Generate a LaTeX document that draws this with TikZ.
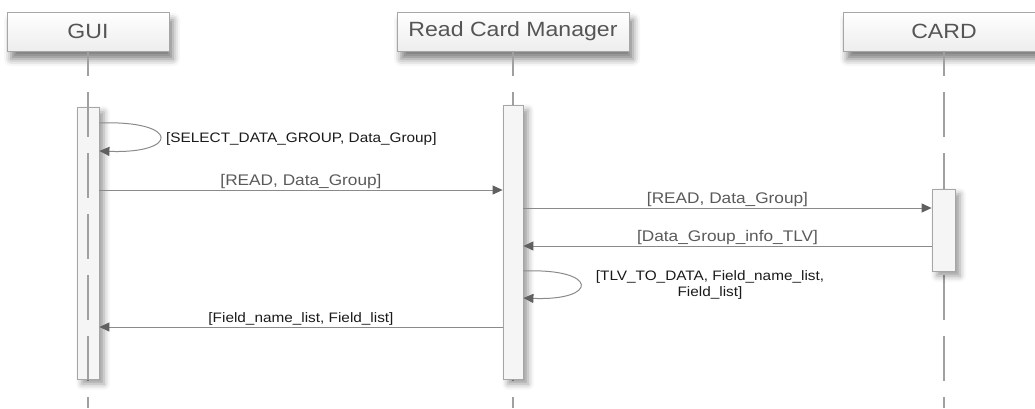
\documentclass[tikz,border=0pt]{standalone}
\usepackage{fontspec}
\setmainfont{Liberation Sans}[FakeStretch=1.12]
\usetikzlibrary{arrows.meta,shadows.blur}

\definecolor{boxline}{HTML}{A6A6A6}
\definecolor{lifeline}{HTML}{A0A0A0}
\definecolor{msgline}{HTML}{8A8A8A}
\definecolor{tipgray}{HTML}{606060}
\definecolor{headtext}{HTML}{555555}
\definecolor{msgtext}{HTML}{5A5A5A}
\definecolor{notetext}{HTML}{1A1A1A}

\tikzset{
  header/.style={draw=boxline, line width=0.8pt, top color=white, bottom color=black!7,
    minimum height=39pt, inner sep=0pt, text=headtext,
    font=\fontsize{20.6}{24}\selectfont,
    blur shadow={shadow xshift=4pt, shadow yshift=-8pt, shadow blur radius=7pt, shadow opacity=50}},
  activation/.style={draw=boxline, line width=0.8pt, fill=black!4, inner sep=0pt,
    blur shadow={shadow xshift=5pt, shadow yshift=-5pt, shadow blur radius=6pt, shadow opacity=40}},
  lifelinestyle/.style={draw=lifeline, line width=1.6pt, dash pattern=on 45pt off 16pt, dash phase=20pt},
  msg/.style={draw=msgline, line width=1pt, -{Triangle[length=10pt, width=9pt, fill=tipgray, color=tipgray]}},
  msglabel/.style={text=msgtext, font=\fontsize{15.4}{18}\selectfont, inner sep=1pt, anchor=south},
  notelabel/.style={text=notetext, font=\fontsize{13.7}{16}\selectfont, inner sep=0pt, align=center}
}

\begin{document}
\begin{tikzpicture}[x=1pt, y=-1pt]
\useasboundingbox (0,0) rectangle (1035,408);
\clip (0,0) rectangle (1035,408);

% participants
\node[header, minimum width=162pt] (gui) at (88,31.5) {GUI};
\node[header, minimum width=232pt] (rcm) at (513,31.5) {Read Card Manager};
\node[header, minimum width=202pt] (card) at (944,31.5) {CARD};

% lifeline ends
\coordinate (guiend) at (88,408);
\coordinate (rcmend) at (513,408);
\coordinate (cardend) at (944,408);

\draw[lifelinestyle] (gui.south) -- (guiend);
\draw[lifelinestyle] (rcm.south) -- (rcmend);
\draw[lifelinestyle] (card.south) -- (cardend);

% activation bars
\node[activation, minimum width=22pt, minimum height=272pt] (guiact) at (88,243) {};
\node[activation, minimum width=20pt, minimum height=274pt] (rcmact) at (513,242) {};
\node[activation, minimum width=23pt, minimum height=82pt] (cardact) at (943.5,230) {};

% the GUI bar is see-through, so its lifeline shows inside
\begin{scope}
  \clip (guiact.north west) rectangle (guiact.south east);
  \draw[lifelinestyle] (gui.south) -- (guiend);
\end{scope}

% messages
\draw[msg] (guiact.east |- 0,123) .. controls (180,120) and (180,154) .. (guiact.east |- 0,151);
\node[notelabel, anchor=west] (m1) at (166,139) {[SELECT\_DATA\_GROUP, Data\_Group]};

\draw[msg] (guiact.east |- 0,190) -- node[msglabel] (m2) {[READ, Data\_Group]} (rcmact.west |- 0,190);

\draw[msg] (rcmact.east |- 0,208) -- node[msglabel] (m3) {[READ, Data\_Group]} (cardact.west |- 0,208);

\draw[msg] (cardact.west |- 0,246) -- node[msglabel] (m4) {[Data\_Group\_info\_TLV]} (rcmact.east |- 0,246);

\draw[msg] (rcmact.east |- 0,271) .. controls (599,268) and (599,301) .. (rcmact.east |- 0,298);
\node[notelabel] (m5) at (710,285) {[TLV\_TO\_DATA, Field\_name\_list,\\Field\_list]};

\draw[msg] (rcmact.west |- 0,327) -- node[msglabel, text=notetext, font=\fontsize{13.7}{16}\selectfont] (m6) {[Field\_name\_list, Field\_list]} (guiact.east |- 0,327);
\end{tikzpicture}
\end{document}
